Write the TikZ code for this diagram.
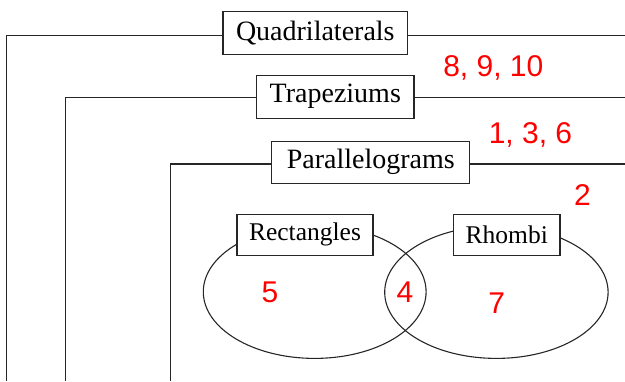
\documentclass[tikz,border=0pt]{standalone}
\usepackage{fontspec}
\setmainfont{Liberation Serif}
\newfontfamily\numfont{Liberation Sans}
\usetikzlibrary{positioning}

\begin{document}
\begin{tikzpicture}[x=1pt,y=-1pt,line width=1.3pt,
    setbox/.style={draw=black!85,fill=white,inner xsep=13pt,minimum height=43pt,
      font=\fontsize{28}{30}\selectfont},
    subbox/.style={setbox,minimum height=41pt,inner xsep=12pt,
      font=\fontsize{25.5}{28}\selectfont},
    num/.style={text=red,font=\numfont\fontsize{30}{32}\selectfont}]
  \useasboundingbox (0,0) rectangle (625,381);
  % nested sets, each open to the right and bottom
  \coordinate (qdown) at (6.7,381);
  \coordinate (tdown) at (65.7,381);
  \coordinate (pdown) at (170.3,381);
  \coordinate (qend) at (625,35.7);
  \coordinate (tend) at (625,97.7);
  \coordinate (pend) at (625,164);
  \node[setbox] (quad) at (315.3,33) {Quadrilaterals};
  \node[setbox] (trap) at (335.3,96.7) {Trapeziums};
  \node[setbox,inner xsep=15pt,minimum height=42pt] (para) at (370.8,162.2) {Parallelograms};
  \draw[black!85] ([yshift=-2.7pt]quad.west) -| (qdown);
  \draw[black!85] ([yshift=-2.7pt]quad.east) -- (qend);
  \draw[black!85] ([yshift=-1pt]trap.west) -| (tdown);
  \draw[black!85] ([yshift=-1pt]trap.east) -- (tend);
  \draw[black!85] ([yshift=-1.8pt]para.west) -| (pdown);
  \draw[black!85] ([yshift=-1.8pt]para.east) -- (pend);
  % the two overlapping sets
  \draw[black!85,line width=1.1pt] (314.7,291.8) ellipse [x radius=111.4, y radius=66.6];
  \draw[black!85,line width=1.1pt] (496.4,292.2) ellipse [x radius=111.7, y radius=66.2];
  \node[subbox] (rect) at (305,234.7) {Rectangles};
  \node[subbox] (rhom) at (506.8,234.7) {Rhombi};
  % question numbers
  \node[num] (nq) at (493.3,68.3) {8, 9, 10};
  \node[num] (nt) at (530.5,135) {1, 3, 6};
  \node[num] (np) at (582.5,195) {2};
  \node[num] (nr) at (270,292.3) {5};
  \node[num] (nb) at (405,292.3) {4};
  \node[num] (nh) at (496.7,303.3) {7};
\end{tikzpicture}
\end{document}
